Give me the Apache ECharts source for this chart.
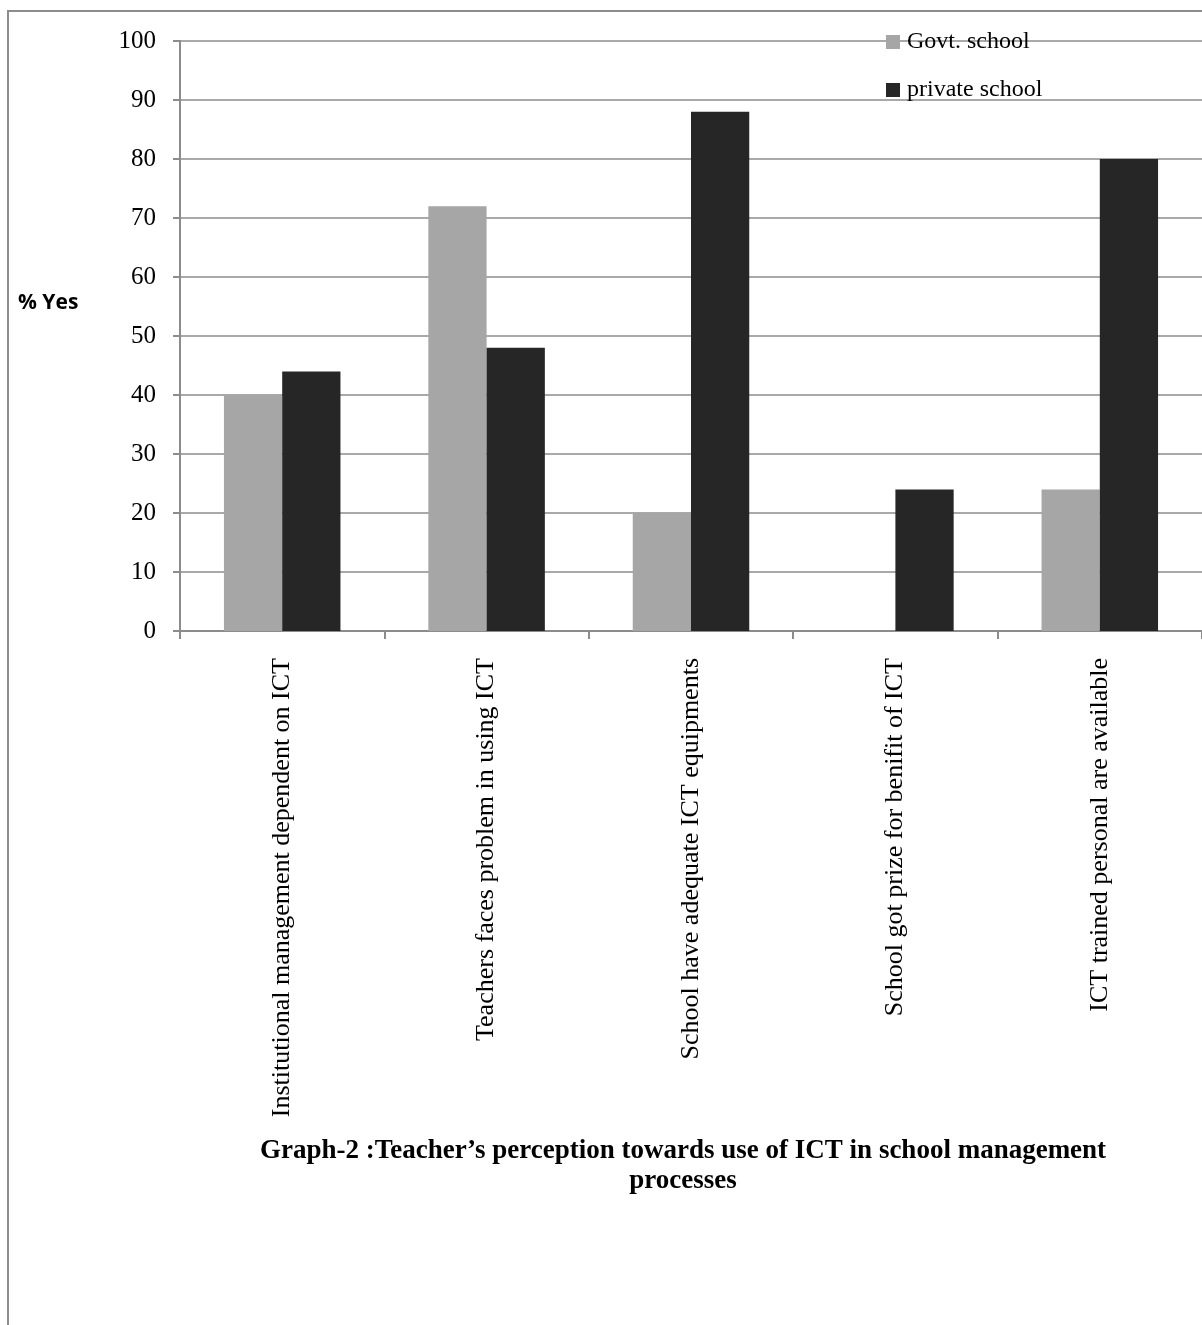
<!DOCTYPE html>
<html>
<head>
<meta charset="utf-8">
<script src="https://cdn.jsdelivr.net/npm/echarts@6/dist/echarts.min.js"></script>
<style>
html,body{margin:0;padding:0;background:#fff;}
#main{width:1202px;height:1325px;}
</style>
</head>
<body>
<div id="main"></div>
<script>
var categories=["Institutional management dependent on ICT","Teachers faces problem in using ICT","School have adequate ICT equipments","School got prize for benifit of ICT","ICT trained personal are available"];
var govtValues=[40,72,20,0,24];
var privateValues=[44,48,88,24,80];
var seriesNames=["Govt. school","private school"];
var yTicks=[0,100,10];  // min, max, interval

var myChart=echarts.init(document.getElementById("main"));

var serif='"Liberation Serif","Times New Roman",serif';
var gridColor="#8c8c8c";

var option={
  backgroundColor:"#fff",
  animation:false,
  graphic:[
    {type:"rect",shape:{x:8,y:11,width:1400,height:1500},style:{fill:"none",stroke:gridColor,lineWidth:2},z:-1},
    {type:"text",x:18,y:293,style:{text:"% Yes",font:'bold 21px "Open Sans",sans-serif',fill:"#000"}},
    {type:"text",x:683,y:1136,style:{
      text:"Graph-2 :Teacher\u2019s perception towards use of ICT in school management\nprocesses",
      font:"bold 27px "+serif,fill:"#000",align:"center",lineHeight:30}}
  ],
  legend:{
    data:seriesNames,
    orient:"vertical",
    left:881,
    top:25,
    icon:"rect",
    itemWidth:14,
    itemHeight:14,
    itemGap:24,
    textStyle:{fontFamily:serif,fontSize:24,color:"#000",lineHeight:24,padding:[0,0,0,2]}
  },
  grid:{left:180,top:41,width:1030,height:590,containLabel:false},
  xAxis:{
    type:"category",
    data:categories,
    axisLine:{lineStyle:{color:gridColor,width:2}},
    axisTick:{show:true,length:8,lineStyle:{color:gridColor,width:2}},
    axisLabel:{rotate:90,margin:27,interval:0,fontFamily:serif,fontSize:26,color:"#000"}
  },
  yAxis:{
    type:"value",
    min:yTicks[0],
    max:yTicks[1],
    interval:yTicks[2],
    axisLine:{show:true,lineStyle:{color:gridColor,width:2}},
    axisTick:{show:true,length:7,lineStyle:{color:gridColor,width:2}},
    axisLabel:{margin:24,fontFamily:serif,fontSize:25,color:"#000"},
    splitLine:{show:true,lineStyle:{color:gridColor,width:1.5}}
  },
  series:[
    {name:seriesNames[0],type:"bar",data:govtValues,barGap:"0%",barCategoryGap:"43%",itemStyle:{color:"#a6a6a6"}},
    {name:seriesNames[1],type:"bar",data:privateValues,barGap:"0%",barCategoryGap:"43%",itemStyle:{color:"#262626"}}
  ]
};

myChart.setOption(option);
</script>
</body>
</html>
